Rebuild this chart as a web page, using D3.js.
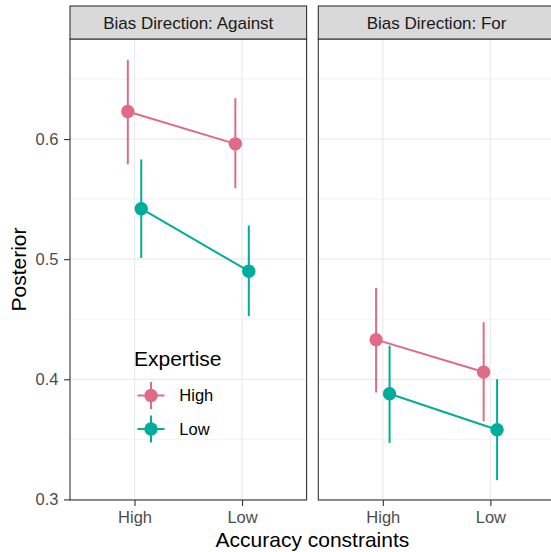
<!DOCTYPE html>
<html>
<head>
<meta charset="utf-8">
<script src="https://cdn.jsdelivr.net/npm/d3@7"></script>
<style>
  body { margin: 0; background: #fff; }
  svg { display: block; font-family: "Liberation Sans", Arial, sans-serif; }
</style>
</head>
<body>
<div id="chart"></div>
<script>
// categories
const facets = ["Against", "For"];
const accuracy = ["High", "Low"];
const expertise = ["High", "Low"];
const colors = ["#E16A86", "#00AD9A"];

// posterior means and intervals, ordered by accuracy (High, Low)
const meanAgainstHigh = [0.623, 0.596];
const lowerAgainstHigh = [0.579, 0.559];
const upperAgainstHigh = [0.666, 0.634];
const meanAgainstLow = [0.542, 0.490];
const lowerAgainstLow = [0.501, 0.4525];
const upperAgainstLow = [0.583, 0.528];

const meanForHigh = [0.433, 0.406];
const lowerForHigh = [0.389, 0.365];
const upperForHigh = [0.476, 0.4475];
const meanForLow = [0.388, 0.358];
const lowerForLow = [0.347, 0.316];
const upperForLow = [0.428, 0.400];

const yTicks = [0.3, 0.4, 0.5, 0.6];
const yMinor = [0.35, 0.45, 0.55, 0.65];

const series = {
  Against: [
    { exp: "High", mean: meanAgainstHigh, lo: lowerAgainstHigh, hi: upperAgainstHigh },
    { exp: "Low", mean: meanAgainstLow, lo: lowerAgainstLow, hi: upperAgainstLow }
  ],
  For: [
    { exp: "High", mean: meanForHigh, lo: lowerForHigh, hi: upperForHigh },
    { exp: "Low", mean: meanForLow, lo: lowerForLow, hi: upperForLow }
  ]
};

const W = 551, H = 552;
const panelTop = 39, panelBottom = 500, stripTop = 6;
const panelW = 236.6, gap = 11.7;
const panelLeft = [70, 70 + panelW + gap];

const svg = d3.select("#chart").append("svg")
  .attr("width", W).attr("height", H);

const y = d3.scaleLinear().domain([0.2995, 0.6833]).range([panelBottom, panelTop]);
const color = d3.scaleOrdinal().domain(expertise).range(colors);

facets.forEach((f, fi) => {
  const x0 = panelLeft[fi];
  const x = d3.scalePoint().domain(accuracy).range([x0, x0 + panelW]).padding(0.6);
  const dodge = x.step() * 0.0625;
  const off = e => (e === "High" ? -dodge : dodge);

  const g = svg.append("g");

  // background
  g.append("rect").attr("x", x0).attr("y", panelTop)
    .attr("width", panelW).attr("height", panelBottom - panelTop).attr("fill", "#fff");

  // grid
  g.selectAll(".minor").data(yMinor).enter().append("line")
    .attr("x1", x0).attr("x2", x0 + panelW)
    .attr("y1", d => y(d)).attr("y2", d => y(d))
    .attr("stroke", "#ebebeb").attr("stroke-width", 0.6);
  g.selectAll(".major").data(yTicks).enter().append("line")
    .attr("x1", x0).attr("x2", x0 + panelW)
    .attr("y1", d => y(d)).attr("y2", d => y(d))
    .attr("stroke", "#ebebeb").attr("stroke-width", 1.2);
  g.selectAll(".vmajor").data(accuracy).enter().append("line")
    .attr("x1", d => x(d)).attr("x2", d => x(d))
    .attr("y1", panelTop).attr("y2", panelBottom)
    .attr("stroke", "#ebebeb").attr("stroke-width", 1.2);

  // lines, error bars, points
  series[f].forEach(s => {
    const pts = accuracy.map((a, i) => ({ a, m: s.mean[i], lo: s.lo[i], hi: s.hi[i] }));
    const c = color(s.exp);
    g.append("path")
      .datum(pts)
      .attr("fill", "none").attr("stroke", c).attr("stroke-width", 2)
      .attr("d", d3.line().x(d => x(d.a) + off(s.exp)).y(d => y(d.m)));
    g.selectAll(null).data(pts).enter().append("line")
      .attr("x1", d => x(d.a) + off(s.exp)).attr("x2", d => x(d.a) + off(s.exp))
      .attr("y1", d => y(d.lo)).attr("y2", d => y(d.hi))
      .attr("stroke", c).attr("stroke-width", 2);
    g.selectAll(null).data(pts).enter().append("circle")
      .attr("cx", d => x(d.a) + off(s.exp)).attr("cy", d => y(d.m))
      .attr("r", 6.7).attr("fill", c);
  });

  // panel border
  g.append("rect").attr("x", x0).attr("y", panelTop)
    .attr("width", panelW).attr("height", panelBottom - panelTop)
    .attr("fill", "none").attr("stroke", "#333").attr("stroke-width", 1.1);

  // strip
  g.append("rect").attr("x", x0).attr("y", stripTop)
    .attr("width", panelW).attr("height", panelTop - stripTop)
    .attr("fill", "#d9d9d9").attr("stroke", "#333").attr("stroke-width", 1.1);
  g.append("text")
    .attr("x", x0 + panelW / 2).attr("y", 29)
    .attr("text-anchor", "middle").attr("font-size", "17px").attr("fill", "#1a1a1a")
    .text("Bias Direction: " + f);

  // x axis
  const xAxis = g.append("g")
    .attr("transform", `translate(0,${panelBottom})`)
    .call(d3.axisBottom(x).tickSize(6).tickPadding(5.7));
  xAxis.select(".domain").remove();
  xAxis.selectAll("line").attr("stroke", "#333").attr("stroke-width", 1.1);
  xAxis.selectAll("text").attr("font-size", "16.5px").attr("fill", "#4d4d4d")
    .attr("font-family", "Liberation Sans, Arial, sans-serif");

  if (fi === 0) {
    const yAxis = g.append("g")
      .attr("transform", `translate(${x0},0)`)
      .call(d3.axisLeft(y).tickValues(yTicks).tickFormat(d3.format(".1f")).tickSize(6).tickPadding(5.5));
    yAxis.select(".domain").remove();
    yAxis.selectAll("line").attr("stroke", "#333").attr("stroke-width", 1.1);
    yAxis.selectAll("text").attr("font-size", "16.5px").attr("fill", "#4d4d4d")
      .attr("font-family", "Liberation Sans, Arial, sans-serif");

    // legend inside first panel
    const lg = svg.append("g");
    lg.append("text").attr("x", 134).attr("y", 366)
      .attr("font-size", "21px").attr("fill", "#000").text("Expertise");
    const keyY = d3.scalePoint().domain(expertise).range([395.5, 429]);
    expertise.forEach(e => {
      const cy = keyY(e), cx = 151, c = color(e);
      lg.append("line").attr("x1", cx - 13.5).attr("x2", cx + 13.5)
        .attr("y1", cy).attr("y2", cy).attr("stroke", c).attr("stroke-width", 2);
      lg.append("line").attr("x1", cx).attr("x2", cx)
        .attr("y1", cy - 13.5).attr("y2", cy + 13.5).attr("stroke", c).attr("stroke-width", 2);
      lg.append("circle").attr("cx", cx).attr("cy", cy).attr("r", 6.7).attr("fill", c);
      lg.append("text").attr("x", 179.3).attr("y", cy).attr("dy", "0.35em")
        .attr("font-size", "16.5px").attr("fill", "#000").text(e);
    });
  }
});

// axis titles
svg.append("text")
  .attr("x", (panelLeft[0] + panelLeft[1] + panelW) / 2).attr("y", 547)
  .attr("text-anchor", "middle").attr("font-size", "21px").attr("fill", "#000")
  .text("Accuracy constraints");
svg.append("text")
  .attr("transform", `translate(26,${(panelTop + panelBottom) / 2}) rotate(-90)`)
  .attr("text-anchor", "middle").attr("font-size", "21px").attr("fill", "#000")
  .text("Posterior");
</script>
</body>
</html>
